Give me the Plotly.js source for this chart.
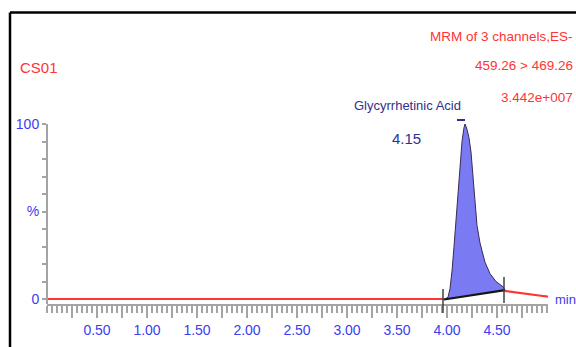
<!DOCTYPE html>
<html>
<head>
<meta charset="utf-8">
<script src="https://cdn.plot.ly/plotly-3.0.1.min.js"></script>
<style>html,body{margin:0;padding:0;background:#fff;}#chart{width:576px;height:347px;}</style>
</head>
<body>
<div id="chart"></div>
<script>
// ---- data ----
const leadTime = [0, 3.97];
const leadInt = [0, 0];
const peakTime = [4.01, 4.03, 4.05, 4.07, 4.09, 4.11, 4.13, 4.15, 4.17, 4.18, 4.20, 4.22, 4.24, 4.26, 4.28, 4.30, 4.33, 4.38, 4.43, 4.49, 4.56, 4.58];
const peakInt  = [1, 6, 16, 30, 44, 58, 75, 90, 98, 100, 97, 92, 84, 70, 56, 42, 32, 21, 14.5, 10, 7, 5.1];
const tailTime = [4.58, 4.72, 4.82, 4.92, 5.01];
const tailInt  = [4.6, 3.7, 2.9, 2.0, 1.4];
const integStart = [3.97, -0.3];
const integEnd = [4.58, 5.1];
const peakStart = 3.96;
const peakEnd = 4.57;
const xTickVals = [0.25, 0.5, 0.75, 1.0, 1.25, 1.5, 1.75, 2.0, 2.25, 2.5, 2.75, 3.0, 3.25, 3.5, 3.75, 4.0, 4.25, 4.5, 4.75];
const xTickText = ['', '0.50', '', '1.00', '', '1.50', '', '2.00', '', '2.50', '', '3.00', '', '3.50', '', '4.00', '', '4.50', ''];
const yTickVals = [0, 10, 20, 30, 40, 50, 60, 70, 80, 90, 100];
const yTickText = ['0', '', '', '', '', '%', '', '', '', '', '100'];
const sampleName = 'CS01';
const headerLines = ['MRM of 3 channels,ES-', '459.26 > 469.26', '3.442e+007'];
const compoundName = 'Glycyrrhetinic Acid';
const rtLabel = '4.15';
const xUnit = 'min';

// ---- styling ----
const FONT = 'Liberation Sans, Arial, sans-serif';
const RED = '#ff3434';
const BLUE = '#3c3cf0';
const NAVY = '#303090';
const GRAY = '#a4a4a4';

const W = 576, H = 347, ML = 47, MR = 28, MT = 12, MB = 43;
const PW = W - ML - MR, PH = H - MT - MB;
const px = x => (x - ML) / PW;          // pixel -> paper x
const py = y => (MT + PH - y) / PH;     // pixel -> paper y

const traces = [
  { // red chromatogram outside integrated peak
    x: leadTime.concat([null], tailTime),
    y: leadInt.concat([null], tailInt),
    mode: 'lines', line: { color: RED, width: 2.2 }, hoverinfo: 'skip', connectgaps: false
  },
  { // integrated peak area
    x: [integStart[0]].concat(peakTime, [integEnd[0]]),
    y: [integStart[1]].concat(peakInt, [integEnd[1]]),
    mode: 'lines', fill: 'toself', fillcolor: '#7a7af2',
    line: { color: '#3a2a55', width: 1 }, hoverinfo: 'skip'
  },
  { // integration baseline
    x: [integStart[0], integEnd[0]],
    y: [integStart[1], integEnd[1]],
    mode: 'lines', line: { color: '#151515', width: 2.2 }, hoverinfo: 'skip'
  }
];

const annotations = [
  { text: sampleName, x: px(19), y: py(67), xanchor: 'left', yanchor: 'middle', font: { color: RED, size: 15 } },
  { text: headerLines[0], x: px(574), y: py(36), xanchor: 'right', yanchor: 'middle', font: { color: RED, size: 13.5 } },
  { text: headerLines[1], x: px(574), y: py(66), xanchor: 'right', yanchor: 'middle', font: { color: RED, size: 13.5 } },
  { text: headerLines[2], x: px(574), y: py(98), xanchor: 'right', yanchor: 'middle', font: { color: RED, size: 13.5 } },
  { text: compoundName, x: px(407), y: py(105), xanchor: 'center', yanchor: 'middle', font: { color: NAVY, size: 13 } },
  { text: rtLabel, x: px(406), y: py(138), xanchor: 'center', yanchor: 'middle', font: { color: NAVY, size: 15 } },
  { text: xUnit, x: px(554), y: py(299), xanchor: 'left', yanchor: 'middle', font: { color: BLUE, size: 13 } }
].map(a => Object.assign({ xref: 'paper', yref: 'paper', showarrow: false, borderpad: 0 }, a, { font: Object.assign({ family: FONT }, a.font) }));

const shapes = [
  // outer black frame (extends past right/bottom edge)
  { type: 'line', xref: 'paper', yref: 'paper', x0: px(10), x1: px(600), y0: py(12.5), y1: py(12.5), line: { color: '#000', width: 2.5 } },
  { type: 'line', xref: 'paper', yref: 'paper', x0: px(10), x1: px(10), y0: py(12.5), y1: py(360), line: { color: '#000', width: 2.5 } },
  // y axis line from 0 to 100 only
  { type: 'line', xref: 'paper', yref: 'paper', x0: 0, x1: 0, y0: py(304), y1: py(124), line: { color: GRAY, width: 2 } },
  // peak start / end markers
  { type: 'line', xref: 'x', yref: 'paper', x0: peakStart, x1: peakStart, y0: py(289), y1: py(313), line: { color: '#404040', width: 1.5 } },
  { type: 'line', xref: 'x', yref: 'paper', x0: peakEnd, x1: peakEnd, y0: py(277), y1: py(303), line: { color: '#404040', width: 1.5 } },
  // small dash above apex
  { type: 'line', xref: 'x', yref: 'paper', x0: 4.10, x1: 4.18, y0: py(120), y1: py(120), line: { color: NAVY, width: 2 } }
];

const layout = {
  width: W, height: H,
  margin: { l: ML, r: MR, t: MT, b: MB, pad: 0 },
  paper_bgcolor: '#fff', plot_bgcolor: '#fff',
  showlegend: false,
  font: { family: FONT },
  xaxis: {
    range: [0, 5.01], showgrid: false, zeroline: false,
    showline: true, linecolor: GRAY, linewidth: 2,
    ticks: 'outside', tickmode: 'array', tickvals: xTickVals, ticktext: xTickText,
    ticklen: 12, tickwidth: 2, tickcolor: GRAY,
    tickfont: { family: FONT, size: 14, color: BLUE },
    minor: { ticks: 'outside', dtick: 0.05, tick0: 0, ticklen: 7, tickwidth: 1.5, tickcolor: GRAY, showgrid: false },
    fixedrange: true
  },
  yaxis: {
    range: [-(304 - 299) / 1.75, (299 - 12) / 1.75], showgrid: false, zeroline: false, showline: false,
    ticks: 'outside', tickmode: 'array', tickvals: yTickVals, ticktext: yTickText,
    ticklen: 4, tickwidth: 2, tickcolor: GRAY,
    tickfont: { family: FONT, size: 14, color: BLUE },
    fixedrange: true
  },
  annotations: annotations,
  shapes: shapes
};

Plotly.newPlot('chart', traces, layout, { staticPlot: true, displayModeBar: false });
</script>
</body>
</html>
